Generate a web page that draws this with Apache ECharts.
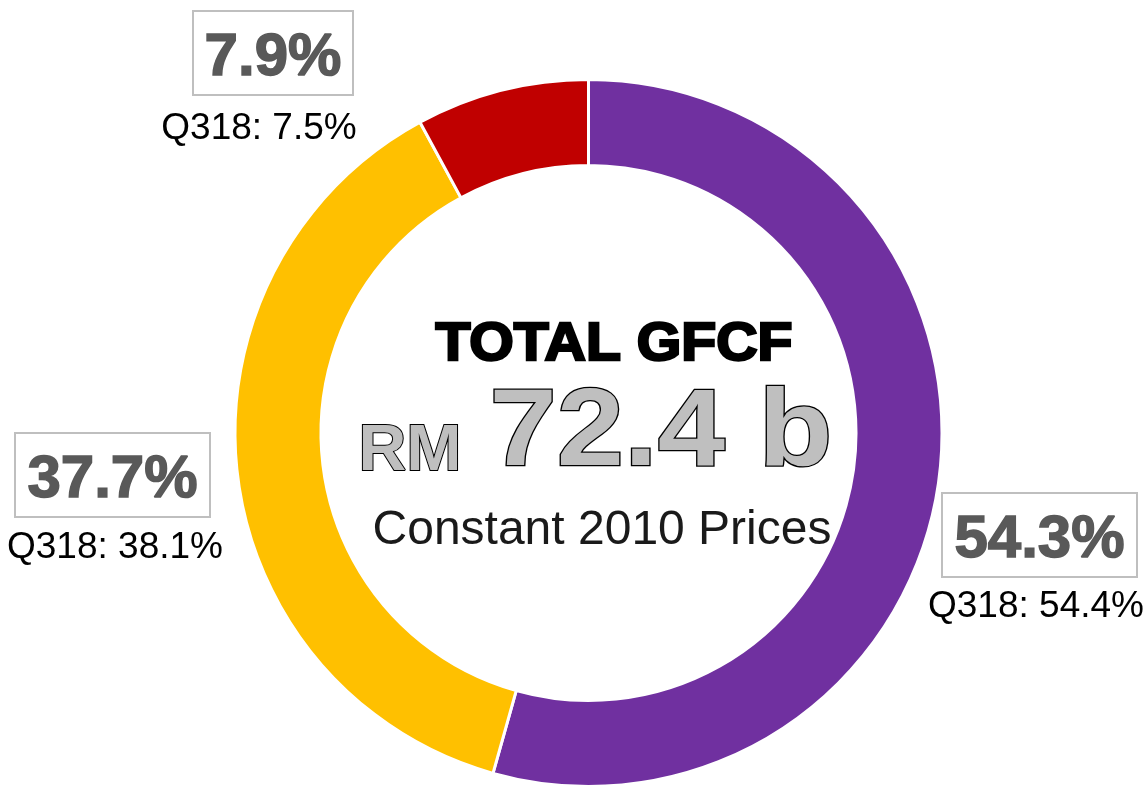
<!DOCTYPE html>
<html lang="en">
<head>
    <meta charset="UTF-8">
    <title>Total GFCF</title>
    <style>
        * { box-sizing: border-box; margin: 0; padding: 0; }
        body { background: #fff; }
        #chart { width: 1147px; height: 787px; }
    </style>
    <script src="https://cdn.jsdelivr.net/npm/echarts@6/dist/echarts.min.js"></script>
</head>
<body>
    <div id="chart"></div>
    <script>
        // data
        const categories = ['Structure', 'Machinery & Equipment', 'Other Assets'];
        const shares = [54.3, 37.7, 7.9];
        const prevShares = [54.4, 38.1, 7.5];
        const prevLabel = 'Q318';
        const totalValue = 72.4;
        const colors = ['#7030A0', '#FFC000', '#C00000'];

        // label box positions (layout only)
        const boxes = [
            { x: 942, y: 493, w: 195, h: 84, qx: 1036, qy: 607 },
            { x: 15, y: 433, w: 195, h: 84, qx: 115, qy: 548 },
            { x: 193, y: 11, w: 160, h: 84, qx: 259, qy: 129 }
        ];

        const graphic = [];
        boxes.forEach((b, i) => {
            graphic.push({
                type: 'rect',
                shape: { x: b.x, y: b.y, width: b.w, height: b.h },
                style: { fill: 'none', stroke: '#BFBFBF', lineWidth: 2 }
            });
            graphic.push({
                type: 'text', x: b.x + b.w / 2, y: b.y + b.h / 2 + 5,
                style: {
                    text: shares[i].toFixed(1) + '%',
                    font: 'bold 60px "Liberation Sans", Arial, sans-serif',
                    fill: '#595959', stroke: '#595959', lineWidth: 1.5,
                    align: 'center', verticalAlign: 'middle'
                }
            });
            graphic.push({
                type: 'text', x: b.qx, y: b.qy,
                style: {
                    text: prevLabel + ': ' + prevShares[i].toFixed(1) + '%',
                    font: '37px "Liberation Sans", Arial, sans-serif',
                    fill: '#000', align: 'center', verticalAlign: 'middle'
                }
            });
        });

        // centre text
        graphic.push({
            type: 'text', x: 614, y: 345, scaleX: 1.06,
            style: {
                text: 'TOTAL GFCF',
                font: 'bold 54px "Liberation Sans", Arial, sans-serif',
                fill: '#000', stroke: '#000', lineWidth: 2.5,
                align: 'center', verticalAlign: 'middle'
            }
        });
        graphic.push({
            type: 'text', x: 410, y: 452, scaleX: 1.02,
            style: {
                text: 'RM',
                font: 'bold 65px "Liberation Sans", Arial, sans-serif',
                fill: '#BFBFBF', stroke: '#000', lineWidth: 2,
                align: 'center', verticalAlign: 'middle'
            }
        });
        graphic.push({
            type: 'text', x: 661, y: 435, scaleX: 1.1,
            style: {
                text: totalValue.toFixed(1) + ' b',
                font: 'bold 110px "Liberation Sans", Arial, sans-serif',
                fill: '#BFBFBF', stroke: '#000', lineWidth: 2.5,
                align: 'center', verticalAlign: 'middle'
            }
        });
        graphic.push({
            type: 'text', x: 602, y: 531,
            style: {
                text: 'Constant 2010 Prices',
                font: '48px "Liberation Sans", Arial, sans-serif',
                fill: '#1a1a1a', align: 'center', verticalAlign: 'middle'
            }
        });

        const chart = echarts.init(document.getElementById('chart'));
        chart.setOption({
            animation: false,
            graphic: graphic,
            series: [{
                type: 'pie',
                center: [588.5, 433],
                radius: [267.5, 353.5],
                startAngle: 90,
                clockwise: true,
                label: { show: false },
                labelLine: { show: false },
                emphasis: { disabled: true },
                itemStyle: { borderColor: '#fff', borderWidth: 3 },
                data: categories.map((c, i) => ({
                    name: c, value: shares[i], itemStyle: { color: colors[i] }
                }))
            }]
        });
    </script>
</body>
</html>
